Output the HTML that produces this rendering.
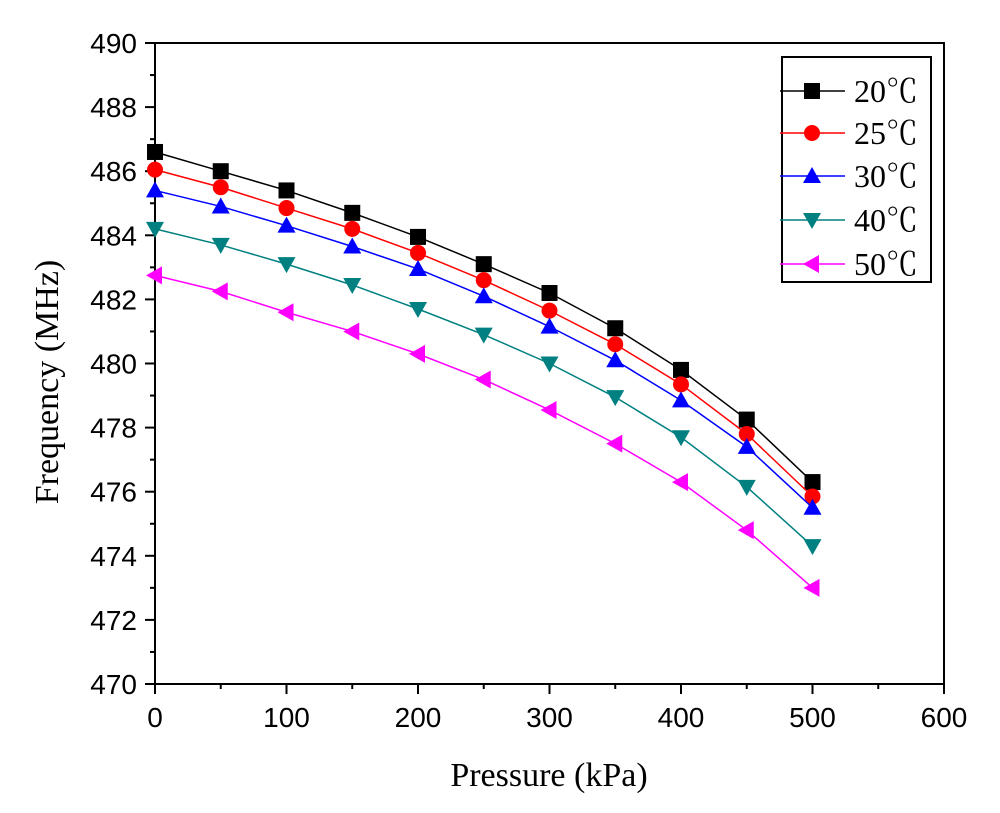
<!DOCTYPE html>
<html><head><meta charset="utf-8"><style>
body{margin:0;background:#fff;}
svg{display:block;}
.tk{font-family:"Liberation Sans",Arial,sans-serif;font-size:28px;fill:#000;}
.tt{font-family:"Liberation Serif","Times New Roman",serif;font-size:34px;fill:#000;}
.lg{font-family:"Liberation Serif","Noto Serif CJK SC",serif;font-size:32px;fill:#000;}
</style></head><body>
<svg id="chart" width="1000" height="813"></svg>
<script>
const pressures=[0,50,100,150,200,250,300,350,400,450,500];
const f20=[486.6,486.0,485.4,484.7,483.95,483.1,482.2,481.1,479.8,478.25,476.3];
const f25=[486.05,485.5,484.85,484.2,483.45,482.6,481.65,480.6,479.35,477.8,475.85];
const f30=[485.4,484.9,484.3,483.65,482.95,482.1,481.15,480.1,478.85,477.4,475.5];
const f40=[484.2,483.7,483.1,482.45,481.7,480.9,480.0,478.95,477.7,476.15,474.3];
const f50=[482.75,482.25,481.6,481.0,480.3,479.5,478.55,477.5,476.3,474.8,473.0];
const seriesNames=["20℃","25℃","30℃","40℃","50℃"];
const xTicks=[0,100,200,300,400,500,600];
const yTicks=[470,472,474,476,478,480,482,484,486,488,490];

const NS="http://www.w3.org/2000/svg";
const svg=document.getElementById('chart');
const X0=155,X1=944,Y0=684,Y1=43;
const xs=v=>X0+(v-0)/(600-0)*(X1-X0);
const ys=v=>Y0-(v-470)/(490-470)*(Y0-Y1);
function mk(tag,attrs,parent){const e=document.createElementNS(NS,tag);for(const k in attrs)e.setAttribute(k,attrs[k]);(parent||svg).appendChild(e);return e;}

const frame=mk('rect',{x:X0,y:Y1,width:X1-X0,height:Y0-Y1,fill:'none',stroke:'#000','stroke-width':2});



xTicks.forEach((t,i)=>{
  const x=xs(t);
  const tk=mk('line',{x1:x,y1:Y0,x2:x,y2:Y0+10,stroke:'#000','stroke-width':2});
  
  
  if(i<xTicks.length-1){const xm=xs(t+50);const m=mk('line',{x1:xm,y1:Y0,x2:xm,y2:Y0+5,stroke:'#000','stroke-width':2});}
  const lb=mk('text',{x:x,y:Y0+43,'text-anchor':'middle',class:'tk'});lb.textContent=t;
  
  
});
yTicks.forEach((t,i)=>{
  const y=ys(t);
  const tk=mk('line',{x1:X0-10,y1:y,x2:X0,y2:y,stroke:'#000','stroke-width':2});
  
  
  if(i<yTicks.length-1){const ym=ys(t+1);const m=mk('line',{x1:X0-5,y1:ym,x2:X0,y2:ym,stroke:'#000','stroke-width':2});}
  const lb=mk('text',{x:X0-18,y:y+10,'text-anchor':'end',class:'tk'});lb.textContent=t;
  
  
});
const xt=mk('text',{x:549,y:786,'text-anchor':'middle',class:'tt'});xt.textContent='Pressure (kPa)';


const yt=mk('text',{x:0,y:0,'text-anchor':'middle',class:'tt',transform:'translate(58,382) rotate(-90)'});yt.textContent='Frequency (MHz)';



const colors=['#000000','#ff0000','#0000ff','#008080','#ff00ff'];
const shapes=['square','circle','up','down','left'];
const all=[f20,f25,f30,f40,f50];
function marker(shape,x,y,c,g){
  const s=9;
  if(shape==='square')return mk('rect',{x:x-s+1,y:y-s+1,width:2*s-2,height:2*s-2,fill:c},g);
  if(shape==='circle')return mk('circle',{cx:x,cy:y,r:s-1,fill:c},g);
  if(shape==='up')return mk('polygon',{points:`${x},${y-s} ${x-s},${y+s-2} ${x+s},${y+s-2}`,fill:c},g);
  if(shape==='down')return mk('polygon',{points:`${x},${y+s} ${x-s},${y-s+2} ${x+s},${y-s+2}`,fill:c},g);
  return mk('polygon',{points:`${x-s},${y} ${x+s-2},${y-s} ${x+s-2},${y+s}`,fill:c},g);
}
all.forEach((vals,si)=>{
  const g=mk('g',{});
  
  
  const pts=pressures.map((p,i)=>xs(p)+','+ys(vals[i])).join(' ');
  const pl=mk('polyline',{points:pts,fill:'none',stroke:colors[si],'stroke-width':1.5},g);
  
  
  pressures.forEach((p,i)=>{
    const m=marker(shapes[si],xs(p),ys(vals[i]),colors[si],g);
    
    
  });
});

const lg=mk('g',{});


mk('rect',{x:782,y:57,width:149,height:225,fill:'#fff',stroke:'#000','stroke-width':2},lg);
const ly=[91,133,176,220,264];
seriesNames.forEach((n,i)=>{
  const e=mk('g',{},lg);
  
  
  mk('line',{x1:780,y1:ly[i],x2:845,y2:ly[i],stroke:colors[i],'stroke-width':1.5},e);
  marker(shapes[i],812,ly[i],colors[i],e);
  const t=mk('text',{x:854,y:ly[i]+11,class:'lg'},e);t.textContent=n;
});
</script>
</body></html>
